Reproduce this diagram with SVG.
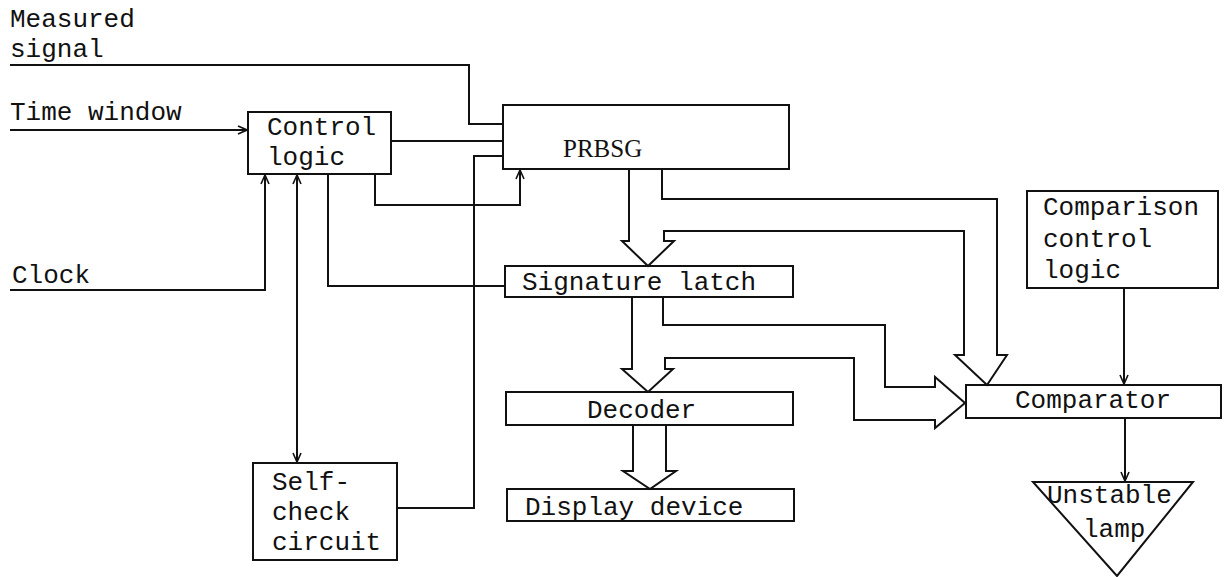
<svg xmlns="http://www.w3.org/2000/svg" width="1225" height="577" viewBox="0 0 1225 577">
<style>
.box{fill:none;stroke:#111;stroke-width:2}
.ln{fill:none;stroke:#111;stroke-width:2;stroke-linejoin:miter}
.t{font-family:"Liberation Mono","Courier New",monospace;font-size:26px;fill:#111}
.s{font-family:"Liberation Serif","Times New Roman",serif;font-size:25px;fill:#111}
</style>
<defs>
<marker id="arr" viewBox="0 0 10 10" refX="10" refY="5" markerWidth="10" markerHeight="10" markerUnits="userSpaceOnUse" orient="auto-start-reverse">
<path d="M1,1 L10,5 L1,9" fill="none" stroke="#111" stroke-width="1.6"/>
</marker>
</defs>
<rect width="1225" height="577" fill="#fff"/>

<g id="labels">
<text class="t" x="10" y="27">Measured</text>
<text class="t" x="10" y="57">signal</text>
<text class="t" x="10" y="120">Time window</text>
<text class="t" x="12" y="283">Clock</text>
</g>

<g id="control-logic">
<rect class="box" x="248" y="112" width="143" height="62"/>
<text class="t" x="267" y="135">Control</text>
<text class="t" x="267" y="165">logic</text>
</g>

<g id="prbsg">
<rect class="box" x="503" y="105" width="286" height="64"/>
<text class="s" x="563" y="157">PRBSG</text>
</g>

<g id="signature-latch">
<rect class="box" x="505" y="266" width="288" height="31"/>
<text class="t" x="522" y="290">Signature latch</text>
</g>

<g id="decoder">
<rect class="box" x="506" y="392" width="287" height="33"/>
<text class="t" x="587" y="418">Decoder</text>
</g>

<g id="display-device">
<rect class="box" x="507" y="489" width="287" height="32"/>
<text class="t" x="525" y="515">Display device</text>
</g>

<g id="self-check">
<rect class="box" x="253" y="463" width="144" height="97"/>
<text class="t" x="272" y="490">Self-</text>
<text class="t" x="272" y="520">check</text>
<text class="t" x="272" y="550">circuit</text>
</g>

<g id="comparison-control">
<rect class="box" x="1027" y="191" width="191" height="97"/>
<text class="t" x="1043" y="215">Comparison</text>
<text class="t" x="1043" y="247">control</text>
<text class="t" x="1043" y="278">logic</text>
</g>

<g id="comparator">
<rect class="box" x="966" y="385" width="255" height="33"/>
<text class="t" x="1015" y="408">Comparator</text>
</g>

<g id="unstable-lamp">
<polygon class="box" points="1033,482 1193,482 1117,576"/>
<text class="t" x="1047" y="503">Unstable</text>
<text class="t" x="1083" y="537">lamp</text>
</g>

<g id="connectors">
<path class="ln" d="M10,65 H469 V124 H503"/>
<path class="ln" d="M10,130 H247" marker-end="url(#arr)"/>
<path class="ln" d="M391,141 H503"/>
<path class="ln" d="M397,508 H474 V156 H503"/>
<path class="ln" d="M375,174 V205 H520 V170" marker-end="url(#arr)"/>
<path class="ln" d="M10,290 H265 V175" marker-end="url(#arr)"/>
<path class="ln" d="M297,175 V462" marker-start="url(#arr)" marker-end="url(#arr)"/>
<path class="ln" d="M328,174 V286 H505"/>
<path class="ln" d="M1124,288 V384" marker-end="url(#arr)"/>
<path class="ln" d="M1125,418 V481" marker-end="url(#arr)"/>
<path class="ln" d="M629,169 V241 H622 L648,266 L674,241 H664 V231 H964 V355 H955 L987,385 L1007,355 H997 V199 H662 V169"/>
<path class="ln" d="M632,297 V369 H622 L648,392 L673,369 H665 V358 H854 V420 H935 V428 L965,403 L935,377 V387 H885 V325 H663 V297"/>
<path class="ln" d="M633,425 V471 H623 L650,489 L676,471 H666 V425"/>
</g>
</svg>
